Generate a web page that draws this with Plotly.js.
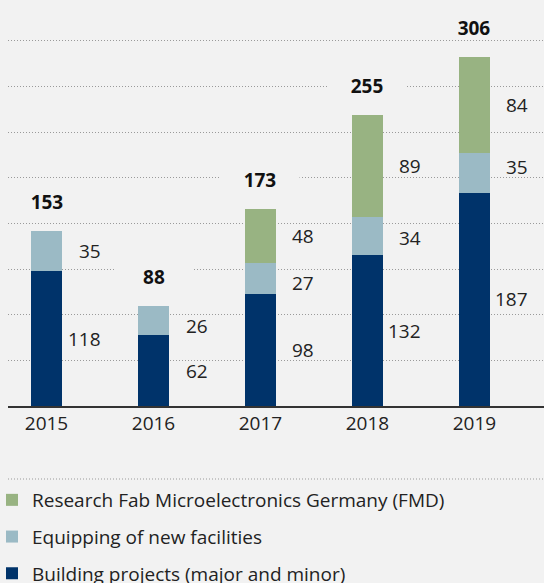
<!DOCTYPE html>
<html>
<head>
<meta charset="utf-8">
<script src="https://cdn.plot.ly/plotly-3.0.1.min.js"></script>
<style>html,body{margin:0;padding:0;background:#f2f2f2;}#chart{width:544px;height:583px;}</style>
</head>
<body>
<div id="chart"></div>
<script>
const years = ["2015", "2016", "2017", "2018", "2019"];
const building = [118, 62, 98, 132, 187];
const equipping = [35, 26, 27, 34, 35];
const fmd = [null, null, 48, 89, 84];
const totals = [153, 88, 173, 255, 306];
const seriesNames = {
  building: "Building projects (major and minor)",
  equipping: "Equipping of new facilities",
  fmd: "Research Fab Microelectronics Germany (FMD)"
};
const colors = { building: "#00336a", equipping: "#9bbac5", fmd: "#98b382" };

const FONT = "Open Sans, Noto Sans, sans-serif";
const W = 544, H = 583, ML = 8, MR = 0, MT = 10, MB = 177;
const plotH = H - MT - MB;
const toPaperY = (py) => (H - MB - py) / plotH;

function barTrace(key, vals, rank) {
  return {
    type: "bar", x: years, y: vals, name: seriesNames[key],
    marker: { color: colors[key], line: { width: 0 } },
    width: 0.29, legendgroup: key, legendrank: rank, hoverinfo: "skip"
  };
}
const traces = [
  barTrace("building", building, 3),
  barTrace("equipping", equipping, 2),
  barTrace("fmd", fmd, 1)
];

// small vertical nudges of segment labels (pixels) as in the original
const labelNudge = { "equipping|2016": -6, "equipping|2017": -4, "equipping|2018": -2, "equipping|2019": 6 };

const annotations = [];
const stacks = [["building", building], ["equipping", equipping], ["fmd", fmd]];
years.forEach((yr, i) => {
  let base = 0;
  stacks.forEach(([key, arr]) => {
    const v = arr[i];
    if (v == null) return;
    annotations.push({
      x: i, y: base + v / 2, xref: "x", yref: "y",
      text: String(v), showarrow: false, xanchor: "right", yanchor: "middle",
      xshift: 56, yshift: labelNudge[key + "|" + yr] || 0,
      font: { family: FONT, size: 19, color: "#222" }
    });
    base += v;
  });
  annotations.push({
    x: i, y: totals[i], xref: "x", yref: "y",
    text: "<b>" + totals[i] + "</b>", showarrow: false, xanchor: "center", yanchor: "middle",
    yshift: 29, width: 78, height: 20, borderpad: 0, bgcolor: "#f2f2f2",
    font: { family: FONT, size: 19, color: "#111" }
  });
});

const layout = {
  width: W, height: H,
  margin: { l: ML, r: MR, t: MT, b: MB, pad: 0, autoexpand: false },
  paper_bgcolor: "#f2f2f2", plot_bgcolor: "#f2f2f2",
  barmode: "stack",
  showlegend: true,
  font: { family: FONT, size: 19, color: "#222" },
  xaxis: {
    type: "category", range: [-0.36, 4.65], fixedrange: true, automargin: false,
    showgrid: false, showline: true, linecolor: "#333", linewidth: 1.6,
    ticks: "", tickfont: { family: FONT, size: 19, color: "#222" }
  },
  yaxis: {
    range: [0, 347], dtick: 40, tick0: 0, showticklabels: false, fixedrange: true, automargin: false,
    showgrid: true, gridcolor: "#9a9a9a", gridwidth: 1, griddash: "1px,2px",
    zeroline: false, showline: false, ticks: ""
  },
  legend: {
    orientation: "v", traceorder: "grouped", tracegroupgap: 9,
    x: -16 / (W - ML - MR), xanchor: "left", y: toPaperY(481), yanchor: "top",
    bgcolor: "rgba(0,0,0,0)", font: { family: FONT, size: 19, color: "#222" },
    itemclick: false, itemdoubleclick: false
  },
  shapes: [{
    type: "line", xref: "paper", yref: "paper", x0: 0, x1: 1,
    y0: toPaperY(479), y1: toPaperY(479),
    line: { color: "#9a9a9a", width: 1, dash: "1px,2px" }
  }],
  annotations: annotations
};

Plotly.newPlot("chart", traces, layout, { displayModeBar: false, staticPlot: true });
</script>
</body>
</html>
